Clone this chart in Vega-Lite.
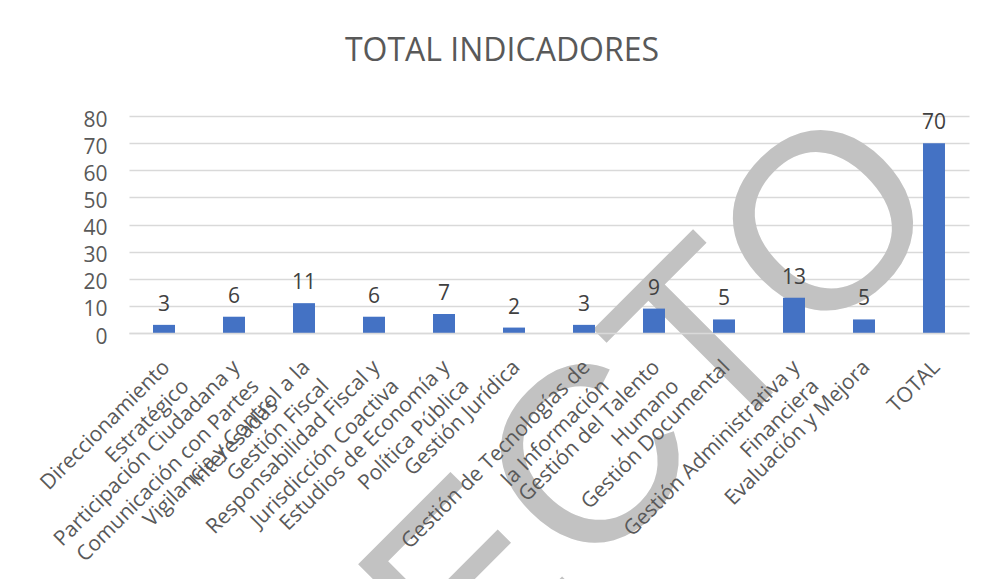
{
  "$schema": "https://vega.github.io/schema/vega-lite/v6.json",
  "width": 840,
  "height": 217,
  "autosize": "none",
  "padding": {"left": 129, "top": 116, "right": 14, "bottom": 246},
  "background": "white",
  "title": {
    "text": "TOTAL INDICADORES",
    "font": "Open Sans",
    "fontSize": 32,
    "fontWeight": "normal",
    "color": "#595959",
    "anchor": "middle",
    "frame": "group",
    "dx": -47,
    "dy": 36,
    "baseline": "alphabetic",
    "offset": 14
  },
  "config": {"view": {"stroke": null}, "font": "Open Sans"},
  "datasets": {
    "indicadores": [
      {"categoria": "Direccionamiento|Estratégico", "valor": 3},
      {"categoria": "Participación Ciudadana y|Comunicación con Partes|Interesadas", "valor": 6},
      {"categoria": "Vigilancia y Control a la|Gestión Fiscal", "valor": 11},
      {"categoria": "Responsabilidad Fiscal y|Jurisdicción Coactiva", "valor": 6},
      {"categoria": "Estudios de Economía y|Política Pública", "valor": 7},
      {"categoria": "Gestión Jurídica", "valor": 2},
      {"categoria": "Gestión de Tecnologías de|la Información", "valor": 3},
      {"categoria": "Gestión del Talento|Humano", "valor": 9},
      {"categoria": "Gestión Documental", "valor": 5},
      {"categoria": "Gestión Administrativa y|Financiera", "valor": 13},
      {"categoria": "Evaluación y Mejora", "valor": 5},
      {"categoria": "TOTAL", "valor": 70}
    ],
    "marca": [
      {"texto": "PROYECTO", "categoria": "TOTAL", "valor": 37.4}
    ]
  },
  "encoding": {
    "x": {
      "field": "categoria",
      "type": "nominal",
      "sort": null,
      "scale": {
        "domain": [
          "Direccionamiento|Estratégico",
          "Participación Ciudadana y|Comunicación con Partes|Interesadas",
          "Vigilancia y Control a la|Gestión Fiscal",
          "Responsabilidad Fiscal y|Jurisdicción Coactiva",
          "Estudios de Economía y|Política Pública",
          "Gestión Jurídica",
          "Gestión de Tecnologías de|la Información",
          "Gestión del Talento|Humano",
          "Gestión Documental",
          "Gestión Administrativa y|Financiera",
          "Evaluación y Mejora",
          "TOTAL"
        ],
        "paddingInner": 0.686,
        "paddingOuter": 0.343
      },
      "axis": {
        "title": null,
        "zindex": 1,
        "labelAngle": -45,
        "labelAlign": "right",
        "labelBaseline": "top",
        "labelExpr": "split(datum.label, '|')",
        "labelFont": "Open Sans",
        "labelFontSize": 21,
        "labelColor": "#595959",
        "labelPadding": 23,
        "labelOffset": -5,
        "labelLineHeight": 27,
        "labelOverlap": false,
        "labelLimit": 500,
        "labelBound": false,
        "ticks": false,
        "domainColor": "#D9D9D9",
        "domainWidth": 1.3
      }
    },
    "y": {
      "field": "valor",
      "type": "quantitative",
      "scale": {"domain": [0, 80], "nice": false},
      "axis": {
        "title": null,
        "values": [0, 10, 20, 30, 40, 50, 60, 70, 80],
        "domain": false,
        "ticks": false,
        "gridColor": "#D9D9D9",
        "gridWidth": 1.3,
        "labelFont": "Open Sans",
        "labelFontSize": 21,
        "labelColor": "#595959",
        "labelPadding": 22,
        "labelOffset": 4
      }
    }
  },
  "layer": [
    {
      "data": {"name": "marca"},
      "mark": {"type": "text", "font": "Liberation Sans", "fontSize": 250, "angle": -45, "align": "right", "baseline": "alphabetic", "dx": 27, "color": "#C2C2C2"},
      "encoding": {"text": {"field": "texto"}}
    },
    {
      "data": {"name": "indicadores"},
      "mark": {"type": "bar", "color": "#4472C4"}
    },
    {
      "data": {"name": "indicadores"},
      "mark": {"type": "text", "baseline": "alphabetic", "dy": -14, "fontSize": 21, "font": "Open Sans", "color": "#404040"},
      "encoding": {"text": {"field": "valor", "type": "quantitative"}}
    }
  ]
}
